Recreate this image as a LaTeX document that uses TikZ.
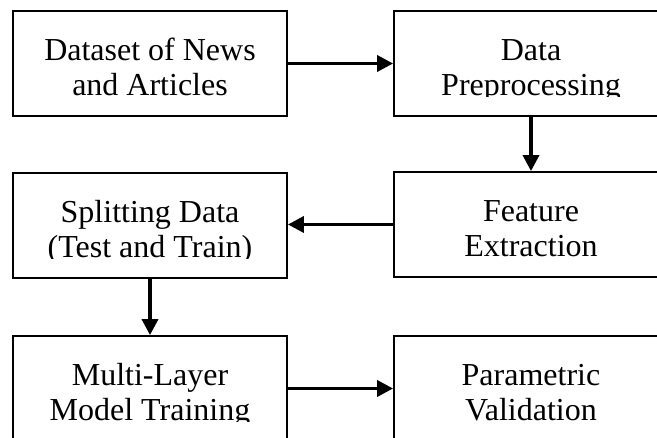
\documentclass[tikz,border=0pt]{standalone}
\usepackage{fontspec}
\setmainfont{Liberation Serif}
\usetikzlibrary{arrows.meta}
\tikzset{
  boxtxt/.style={anchor=base, inner sep=0pt, font=\fontsize{32}{36}\selectfont},
  box/.style 2 args={draw=black, line width=1.8pt, minimum width=274pt, minimum height=105pt, inner sep=0pt,
    path picture={
      \clip (path picture bounding box.north west) rectangle ([yshift=-86pt]path picture bounding box.north east);
      \node[boxtxt] at ([yshift=-49.5pt]path picture bounding box.north) {#1};
      \node[boxtxt] at ([yshift=-85pt]path picture bounding box.north) {#2};
    }},
  flow/.style={draw=black, line width=3.4pt, -{Triangle[length=16pt,width=16pt]}}
}
\begin{document}
\begin{tikzpicture}[x=1pt,y=-1pt]
\useasboundingbox (0,0) rectangle (657,438);
\clip (0,0) rectangle (657,438);
\node[box={Dataset of News}{and Articles}] (b1) at (150,63.5) {};
\node[box={Data}{Preprocessing}] (b2) at (531,63.5) {};
\node[box={Splitting Data}{(Test and Train)}] (b3) at (150,225.5) {};
\node[box={Feature}{Extraction}] (b4) at (531,224.5) {};
\node[box={Multi-Layer}{Model Training}] (b5) at (150,388.5) {};
\node[box={Parametric}{Validation}] (b6) at (531,388.5) {};
\draw[flow] (b1.east) -- (b2.west);
\draw[flow] (b2.south) -- (b4.north);
\draw[flow] (b4.west) -- (b3.east |- b4.west);
\draw[flow] (b3.south) -- (b5.north);
\draw[flow] (b5.east) -- (b6.west);
\end{tikzpicture}
\end{document}
